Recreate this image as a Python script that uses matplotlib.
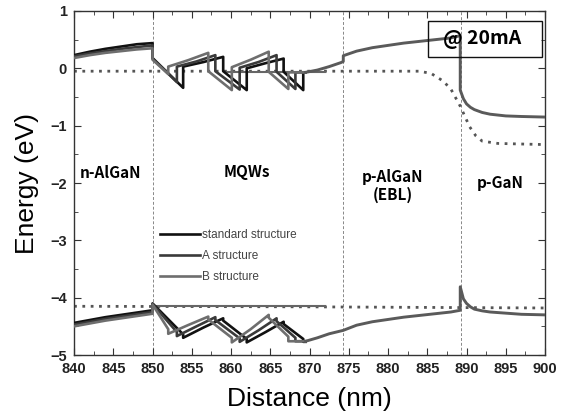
import matplotlib
matplotlib.use("Agg")
import matplotlib.pyplot as plt
from matplotlib.ticker import MultipleLocator
from matplotlib.patches import Rectangle

# positions (nm) et bandes de chaque structure
x_std = [840, 842, 844, 846, 848, 850, 850, 853.9, 853.9, 856.5, 859.0, 859.0, 862.0, 862.0, 864.4, 866.7, 866.7, 869.2, 869.2, 869.5]
cb_std = [0.23, 0.29, 0.34, 0.38, 0.42, 0.44, 0.18, -0.34, 0.03, 0.11, 0.20, -0.05, -0.38, 0.0, 0.09, 0.17, -0.06, -0.38, -0.07, -0.07]
vb_std = [-4.44, -4.39, -4.34, -4.30, -4.26, -4.22, -4.10, -4.64, -4.70, -4.52, -4.36, -4.40, -4.72, -4.78, -4.60, -4.42, -4.46, -4.72, -4.77, -4.77]

x_a = [840, 842, 844, 846, 848, 850, 850, 853.1, 853.1, 855.6, 858.0, 858.0, 861.1, 861.1, 863.5, 865.8, 865.8, 868.2, 868.2, 869.5]
cb_a = [0.21, 0.26, 0.30, 0.34, 0.37, 0.40, 0.17, -0.24, 0.03, 0.12, 0.23, -0.05, -0.37, 0.01, 0.11, 0.23, -0.06, -0.36, -0.07, -0.07]
vb_a = [-4.47, -4.42, -4.37, -4.33, -4.29, -4.25, -4.11, -4.60, -4.67, -4.50, -4.34, -4.39, -4.71, -4.77, -4.57, -4.36, -4.41, -4.70, -4.76, -4.76]

x_b = [840, 842, 844, 846, 848, 850, 850, 852.0, 852.0, 854.5, 857.1, 857.1, 860.1, 860.1, 862.5, 864.8, 864.8, 867.3, 867.3, 869.5]
cb_b = [0.18, 0.23, 0.27, 0.30, 0.33, 0.35, 0.15, -0.10, 0.03, 0.14, 0.27, -0.05, -0.38, 0.02, 0.15, 0.29, -0.06, -0.36, -0.07, -0.07]
vb_b = [-4.50, -4.45, -4.40, -4.36, -4.32, -4.28, -4.12, -4.55, -4.63, -4.48, -4.33, -4.38, -4.70, -4.78, -4.55, -4.30, -4.35, -4.68, -4.76, -4.76]

# partie commune cote p (EBL + p-GaN)
x_p = [869.5, 871, 872.5, 874.0, 874.3, 874.3, 876, 878, 880, 882, 884, 886, 888, 889.2, 889.2, 889.6, 890, 890.5, 891, 892, 893, 895, 897, 900]
cb_p = [-0.07, -0.03, 0.03, 0.10, 0.12, 0.22, 0.30, 0.36, 0.40, 0.44, 0.47, 0.50, 0.53, 0.57, -0.38, -0.53, -0.62, -0.68, -0.72, -0.77, -0.80, -0.83, -0.84, -0.85]
vb_p = [-4.76, -4.70, -4.63, -4.58, -4.57, -4.57, -4.48, -4.42, -4.38, -4.34, -4.31, -4.28, -4.25, -4.22, -3.81, -4.02, -4.10, -4.16, -4.20, -4.23, -4.25, -4.27, -4.29, -4.30]

# quasi-niveaux de Fermi
x_fn = [840, 884, 885.5, 887, 888, 889.2, 890.4, 891.2, 892, 894, 900]
e_fn = [-0.05, -0.05, -0.09, -0.22, -0.36, -0.66, -1.02, -1.18, -1.27, -1.31, -1.33]
x_fp = [840, 870, 900]
e_fp = [-4.15, -4.16, -4.18]
x_fn_solid = [859.5, 872]
e_fn_solid = [-0.06, -0.06]
x_fp_solid = [850, 872]
e_fp_solid = [-4.14, -4.14]

interfaces = [850, 874.3, 889.3]
labels = ['standard structure', 'A structure', 'B structure']
couleurs = ['#111111', '#3a3a3a', '#6e6e6e']

plt.rcParams['font.family'] = ['Liberation Sans', 'DejaVu Sans']

fig = plt.figure(figsize=(5.61, 4.18), dpi=100)
ax = fig.add_axes([0.132, 0.1507, 0.8395, 0.823])

for xv in interfaces:
    ax.axvline(xv, color='#888888', lw=0.7, ls=(0, (3, 2)), zorder=1)

ax.plot(x_fn, e_fn, color='#555555', lw=2, ls=(0, (1, 2)), zorder=2)
ax.plot(x_fp, e_fp, color='#555555', lw=2, ls=(0, (1, 2)), zorder=2)
ax.plot(x_fn_solid, e_fn_solid, color='#666666', lw=1.5, zorder=2)
ax.plot(x_fp_solid, e_fp_solid, color='#666666', lw=1.5, zorder=2)

donnees = [(x_std, cb_std, vb_std), (x_a, cb_a, vb_a), (x_b, cb_b, vb_b)]
for (xs, cb, vb), lab, c in zip(donnees, labels, couleurs):
    ax.plot(xs, cb, color=c, lw=1.9, label=lab, zorder=3)
    ax.plot(xs, vb, color=c, lw=1.9, zorder=3)

ax.plot(x_p, cb_p, color='#5a5a5a', lw=2.1, zorder=4)
ax.plot(x_p, vb_p, color='#5a5a5a', lw=2.1, zorder=4)

ax.set_xlim(840, 900)
ax.set_ylim(-5, 1)
ax.xaxis.set_major_locator(MultipleLocator(5))
ax.xaxis.set_minor_locator(MultipleLocator(2.5))
ax.yaxis.set_major_locator(MultipleLocator(1))
ax.yaxis.set_minor_locator(MultipleLocator(0.5))
ax.tick_params(which='both', direction='in', top=True, right=True, color='#333333')
ax.tick_params(which='major', length=5, labelsize=10.5, pad=5)
ax.tick_params(which='minor', length=3)
for lab in ax.get_xticklabels() + ax.get_yticklabels():
    lab.set_fontweight('bold')
    lab.set_color('#222222')
for s in ax.spines.values():
    s.set_color('#333333')
    s.set_linewidth(1)

ax.set_xlabel('Distance (nm)', fontsize=19, labelpad=8)
ax.set_ylabel('Energy (eV)', fontsize=19, labelpad=8)

# etiquettes des regions
police = ['Noto Sans CJK KR', 'DejaVu Sans']
ax.text(844.6, -1.82, 'n-AlGaN', fontsize=11, ha='center', va='center', family=police, fontweight='bold')
ax.text(862.0, -1.81, 'MQWs', fontsize=11, ha='center', va='center', family=police, fontweight='bold')
ax.text(880.6, -1.90, 'p-AlGaN', fontsize=11, ha='center', va='center', family=police, fontweight='bold')
ax.text(880.6, -2.21, '(EBL)', fontsize=11, ha='center', va='center', family=police, fontweight='bold')
ax.text(894.3, -2.00, 'p-GaN', fontsize=11, ha='center', va='center', family=police, fontweight='bold')

ax.add_patch(Rectangle((0.752, 0.866), 0.242, 0.105, transform=ax.transAxes,
                       fill=False, edgecolor='#111111', lw=1, zorder=5))
ax.text(0.866, 0.917, '@ 20mA', transform=ax.transAxes, fontsize=14, ha='center', va='center',
        family=police, fontweight='bold', zorder=6)

leg = ax.legend(loc='upper left', bbox_to_anchor=(0.183, 0.366), frameon=False, fontsize=8.5,
                handlelength=3.4, handletextpad=0.1, labelspacing=0.75, borderaxespad=0, borderpad=0)
for t in leg.get_texts():
    t.set_color('#444444')

fig.savefig('out.png', dpi=100)
